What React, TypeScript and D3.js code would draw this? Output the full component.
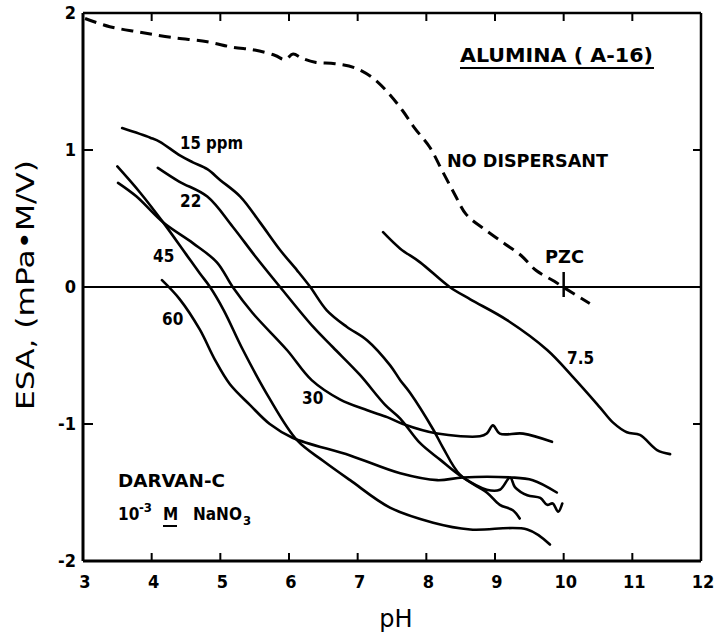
import React from "react";
import * as d3 from "d3";

type P = [number, number];

const xTicks = [3, 4, 5, 6, 7, 8, 9, 10, 11, 12];
const yTicks = [2, 1, 0, -1, -2];
const yTickLabels = ["2", "1", "0", "-1", "-2"];

const noDispersant: P[] = [
  [3.03, 1.96], [3.39, 1.9], [3.83, 1.86], [4.31, 1.82], [4.81, 1.79], [5.18, 1.75],
  [5.5, 1.73], [5.8, 1.69], [5.94, 1.66], [6.06, 1.7], [6.19, 1.67], [6.38, 1.64],
  [6.67, 1.63], [6.96, 1.6], [7.21, 1.53], [7.44, 1.42], [7.65, 1.29], [7.83, 1.16],
  [8.05, 1.02], [8.24, 0.84], [8.42, 0.67], [8.58, 0.53], [8.85, 0.42], [9.13, 0.32],
  [9.38, 0.23], [9.6, 0.12], [9.87, 0.04], [9.99, 0], [10.38, -0.12],
];

const ppm15: P[] = [
  [3.57, 1.16], [3.98, 1.09], [4.12, 1.06], [4.41, 0.96], [4.6, 0.91], [4.81, 0.86],
  [5.0, 0.78], [5.29, 0.66], [5.58, 0.47], [5.87, 0.27], [6.12, 0.12], [6.31, 0],
  [6.55, -0.17], [6.84, -0.29], [7.14, -0.39], [7.47, -0.57], [7.62, -0.68],
  [7.76, -0.77], [8.1, -1.04], [8.24, -1.17], [8.49, -1.37], [8.88, -1.5],
  [9.07, -1.59], [9.26, -1.63], [9.36, -1.69],
];

const ppm22: P[] = [
  [4.09, 0.87], [4.4, 0.77], [4.81, 0.66], [5.18, 0.44], [5.5, 0.23], [5.87, 0],
  [6.35, -0.29], [6.64, -0.44], [7.03, -0.64], [7.4, -0.86], [7.62, -0.96],
  [7.91, -1.14], [8.2, -1.26], [8.53, -1.39], [8.88, -1.48], [9.07, -1.48],
  [9.22, -1.39], [9.29, -1.46], [9.47, -1.52], [9.66, -1.54], [9.76, -1.59],
  [9.84, -1.58], [9.92, -1.64], [9.98, -1.58],
];

const ppm30: P[] = [
  [3.51, 0.76], [3.78, 0.66], [4.17, 0.47], [4.6, 0.32], [4.95, 0.18], [5.18, 0],
  [5.47, -0.19], [5.97, -0.46], [6.33, -0.68], [6.74, -0.82], [7.14, -0.9],
  [7.43, -0.95], [7.66, -1.0], [8.16, -1.07], [8.78, -1.09], [8.88, -1.07],
  [8.97, -1.01], [9.07, -1.07], [9.41, -1.07], [9.83, -1.13],
];

const ppm45: P[] = [
  [3.5, 0.88], [3.83, 0.69], [4.17, 0.47], [4.5, 0.24], [4.7, 0.1], [4.85, 0],
  [5.05, -0.17], [5.33, -0.46], [5.7, -0.8], [6.12, -1.12], [6.5, -1.27],
  [6.89, -1.41], [7.47, -1.61], [8.1, -1.72], [8.64, -1.77], [9.47, -1.77],
  [9.8, -1.88],
];

const ppm60: P[] = [
  [4.15, 0.05], [4.41, -0.09], [4.7, -0.31], [4.92, -0.53], [5.14, -0.71],
  [5.43, -0.86], [5.72, -1.0], [6.05, -1.1], [6.89, -1.23], [7.62, -1.36],
  [8.16, -1.41], [8.53, -1.39], [9.22, -1.39], [9.55, -1.41], [9.9, -1.5],
];

const ppm75: P[] = [
  [7.37, 0.4], [7.62, 0.28], [7.91, 0.18], [8.34, 0], [8.64, -0.09], [9.17, -0.24],
  [9.76, -0.46], [10.14, -0.66], [10.53, -0.88], [10.72, -0.99], [10.92, -1.06],
  [11.11, -1.08], [11.36, -1.19], [11.55, -1.22],
];

const solidSeries = [ppm15, ppm22, ppm30, ppm45, ppm60, ppm75];

const W = 715;
const H = 640;
const L = 83, R = 701, T = 13, B = 561;

export default function App() {
  const x = d3.scaleLinear().domain([3, 12]).range([L, R]);
  const y = d3.scaleLinear().domain([-2, 2]).range([B, T]);
  const line = d3
    .line<P>()
    .x((d) => x(d[0]))
    .y((d) => y(d[1]))
    .curve(d3.curveCatmullRom.alpha(0.5));

  const font = "'DejaVu Sans Condensed', 'DejaVu Sans', sans-serif";
  const innerTicks = xTicks.filter((t) => t > 3 && t < 12);

  return (
    <svg
      width={W}
      height={H}
      style={{ position: "absolute", left: 0, top: 0, background: "#fff" }}
    >
      <rect x={0} y={0} width={W} height={H} fill="#fff" />
      {/* frame */}
      <line x1={L} y1={T} x2={R} y2={T} stroke="#000" strokeWidth={2.5} />
      <line x1={R} y1={T} x2={R} y2={B} stroke="#000" strokeWidth={2.5} />
      <line x1={L} y1={B} x2={R} y2={B} stroke="#000" strokeWidth={3} />
      <line x1={L} y1={T} x2={L} y2={B} stroke="#000" strokeWidth={3} />
      {/* zero line */}
      <line x1={L} y1={y(0)} x2={R} y2={y(0)} stroke="#000" strokeWidth={2} />
      {/* x ticks */}
      {innerTicks.map((t) => (
        <g key={"xt" + t}>
          <line x1={x(t)} y1={B} x2={x(t)} y2={B - 8} stroke="#000" strokeWidth={2} />
          <line x1={x(t)} y1={T} x2={x(t)} y2={T + 8} stroke="#000" strokeWidth={2} />
        </g>
      ))}
      {/* y ticks */}
      {[1, -1].map((t) => (
        <g key={"yt" + t}>
          <line x1={L} y1={y(t)} x2={L + 10} y2={y(t)} stroke="#000" strokeWidth={2} />
          <line x1={R} y1={y(t)} x2={R - 8} y2={y(t)} stroke="#000" strokeWidth={2} />
        </g>
      ))}
      {/* tick labels */}
      {xTicks.map((t) => (
        <text
          key={"xl" + t}
          x={x(t) + 2}
          y={588}
          textAnchor="middle"
          fontFamily={font}
          fontWeight="bold"
          fontSize={18}
        >
          {t}
        </text>
      ))}
      {yTicks.map((t, i) => (
        <text
          key={"yl" + t}
          x={76}
          y={y(t) + 6}
          textAnchor="end"
          fontFamily={font}
          fontWeight="bold"
          fontSize={18}
        >
          {yTickLabels[i]}
        </text>
      ))}
      {/* axis titles */}
      <text
        transform={`translate(34,${285}) rotate(-90)`}
        textAnchor="middle"
        fontFamily="'DejaVu Sans', sans-serif"
        fontSize={25}
        textLength={250}
        lengthAdjust="spacingAndGlyphs"
      >
        ESA, (mPa•M/V)
      </text>
      <text
        x={396}
        y={627}
        textAnchor="middle"
        fontFamily="'DejaVu Sans', sans-serif"
        fontSize={24}
      >
        pH
      </text>
      {/* curves */}
      <path
        d={line(noDispersant) || ""}
        fill="none"
        stroke="#000"
        strokeWidth={3}
        strokeDasharray="12 7"
      />
      {solidSeries.map((s, i) => (
        <path key={"s" + i} d={line(s) || ""} fill="none" stroke="#000" strokeWidth={2.6} strokeLinejoin="round" strokeLinecap="round" />
      ))}
      {/* PZC marker */}
      <line x1={x(10)} y1={y(0) - 15} x2={x(10)} y2={y(0) + 10} stroke="#000" strokeWidth={2.5} />
      {/* annotations */}
      <g fontFamily={font} fontWeight="bold" fill="#000">
        <text x={460} y={62} fontSize={19} textLength={193} lengthAdjust="spacingAndGlyphs">
          ALUMINA ( A-16)
        </text>
        <line x1={460} y1={68} x2={654} y2={68} stroke="#000" strokeWidth={2} />
        <text x={447} y={167} fontSize={18} textLength={161} lengthAdjust="spacingAndGlyphs">
          NO DISPERSANT
        </text>
        <text x={545} y={263} fontSize={17} textLength={39} lengthAdjust="spacingAndGlyphs">
          PZC
        </text>
        <text x={180} y={149} fontSize={17} textLength={63} lengthAdjust="spacingAndGlyphs">
          15 ppm
        </text>
        <text x={180} y={207} fontSize={17}>22</text>
        <text x={153} y={262} fontSize={17}>45</text>
        <text x={162} y={325} fontSize={17}>60</text>
        <text x={302} y={404} fontSize={17}>30</text>
        <text x={567} y={364} fontSize={17}>7.5</text>
        <text x={118} y={487} fontSize={17} textLength={107} lengthAdjust="spacingAndGlyphs">
          DARVAN-C
        </text>
        <text y={520} fontSize={17}>
          <tspan x={118}>10</tspan>
          <tspan x={139} dy={-8} fontSize={13}>-3</tspan>
          <tspan x={163} dy={8}>M</tspan>
          <tspan x={193}>NaNO</tspan>
          <tspan x={243} dy={5} fontSize={13}>3</tspan>
        </text>
        <line x1={163} y1={526} x2={177} y2={526} stroke="#000" strokeWidth={2} />
      </g>
    </svg>
  );
}
